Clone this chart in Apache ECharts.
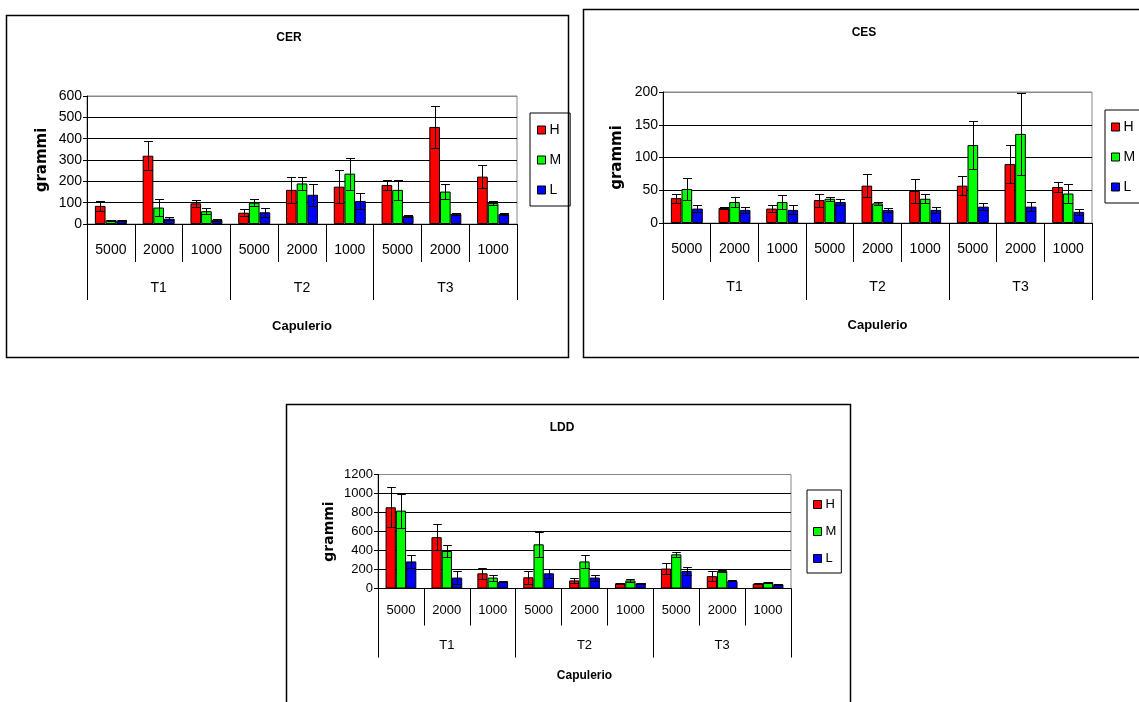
<!DOCTYPE html>
<html><head><meta charset="utf-8">
<script src="https://cdn.jsdelivr.net/npm/echarts@6/dist/echarts.min.js"></script>
<style>html,body{margin:0;padding:0;background:#fff;overflow:hidden}#c{width:1139px;height:702px}</style>
</head><body><div id="c"></div>
<script>
const subCats = ['5000','2000','1000','5000','2000','1000','5000','2000','1000'];
const groups = ['T1','T2','T3'];
const seriesNames = ['H','M','L'];
const colors = ['#FF0000','#00FF00','#0000FF'];

const cerH = [85,320,97,53,160,175,183,455,222];
const cerM = [18,77,60,100,190,236,160,152,98];
const cerL = [17,25,20,55,137,108,38,48,47];
const cerHErr = [22,68,15,16,60,77,23,100,53];
const cerMErr = [3,38,15,16,30,75,47,37,8];
const cerLErr = [3,6,4,22,52,37,3,5,5];

const cesH = [38,23,22,35,57,49,57,90,55];
const cesM = [52,32,32,37,30,37,119,136,45];
const cesL = [22,20,20,32,20,20,25,25,17];
const cesHErr = [7,2,5,10,18,18,15,29,7];
const cesMErr = [17,8,10,3,2,7,37,62,15];
const cesLErr = [5,5,7,5,3,5,5,7,5];

const lddH = [855,540,160,118,85,55,210,130,50];
const lddM = [820,395,115,465,285,85,360,185,65];
const lddL = [285,115,70,160,115,55,185,80,45];
const lddHErr = [210,135,59,66,28,8,60,55,5];
const lddMErr = [180,63,31,130,70,15,28,15,5];
const lddLErr = [65,65,5,45,31,5,39,5,5];

const yTicksCER = {min:0, max:600, interval:100};
const yTicksCES = {min:0, max:200, interval:50};
const yTicksLDD = {min:0, max:1200, interval:200};

const FONT = 'Liberation Sans, Arial, sans-serif';

const charts = [
  {title:'CER', vals:[cerH,cerM,cerL], errs:[cerHErr,cerMErr,cerLErr], y:yTicksCER,
   grid:{left:87, top:96, width:430, height:128}, fs:14, nameFs:15,
   box:{x:6,y:15,w:562,h:342}, titleXY:[289,38],
   subTick:38, grpTick:76, subMargin:19, grpMargin:57, capGap:96, yNameGap:37,
   legend:{left:530, top:113, pad:[10,9,9,7], gap:16, fs:14}},
  {title:'CES', vals:[cesH,cesM,cesL], errs:[cesHErr,cesMErr,cesLErr], y:yTicksCES,
   grid:{left:663, top:92, width:429, height:131}, fs:14, nameFs:15,
   box:{x:583,y:9,w:620,h:348}, titleXY:[864,33],
   subTick:39, grpTick:77, subMargin:19, grpMargin:57, capGap:96, yNameGap:38,
   legend:{left:1105, top:110, pad:[10,20,9,6], gap:16, fs:14}},
  {title:'LDD', vals:[lddH,lddM,lddL], errs:[lddHErr,lddMErr,lddLErr], y:yTicksLDD,
   grid:{left:378, top:474.5, width:413, height:114}, fs:13, nameFs:14,
   box:{x:286,y:404,w:564,h:310}, titleXY:[562,428],
   subTick:37, grpTick:69, subMargin:15, grpMargin:50, capGap:81, yNameGap:42,
   legend:{left:807, top:490, pad:[8,5,8,6], gap:14, fs:13}}
];

function errRender(params, api) {
  const ci = api.value(0), v = api.value(1), e = api.value(2), si = api.value(3);
  const band = api.size([1, 0])[0];
  const bw = band * 0.67 / 3;
  const c = api.coord([ci, v]);
  const x = Math.round(c[0] + (si - 1) * bw) + 0.5;
  const top = Math.round(api.coord([ci, v + e])[1]) + 0.5;
  const bot = Math.round(api.coord([ci, Math.max(0, v - e)])[1]) + 0.5;
  const cap = bw * 0.42;
  const st = {stroke:'#000', lineWidth:1};
  return {type:'group', children:[
    {type:'line', shape:{x1:x, y1:top, x2:x, y2:bot}, style:st},
    {type:'line', shape:{x1:x-cap, y1:top, x2:x+cap, y2:top}, style:st},
    {type:'line', shape:{x1:x-cap, y1:bot, x2:x+cap, y2:bot}, style:st}
  ]};
}

const option = {backgroundColor:'#fff', animation:false, grid:[], xAxis:[], yAxis:[], series:[], legend:[], graphic:[]};

charts.forEach((ch, i) => {
  option.grid.push(Object.assign({show:true, borderColor:'#888', borderWidth:1, backgroundColor:'transparent', containLabel:false}, ch.grid));
  option.xAxis.push({
    type:'category', gridIndex:i, data:subCats, position:'bottom',
    axisLine:{show:true, lineStyle:{color:'#000', width:1}},
    axisTick:{show:true, interval:0, length:ch.subTick, alignWithLabel:false, lineStyle:{color:'#000'}},
    axisLabel:{interval:0, margin:ch.subMargin, color:'#000', fontSize:ch.fs, fontFamily:FONT},
    splitLine:{show:false}
  });
  option.xAxis.push({
    type:'category', gridIndex:i, data:groups, position:'bottom',
    axisLine:{show:false},
    axisTick:{show:true, interval:0, length:ch.grpTick, alignWithLabel:false, lineStyle:{color:'#000'}},
    axisLabel:{interval:0, margin:ch.grpMargin, color:'#000', fontSize:ch.fs, fontFamily:FONT},
    name:'Capulerio', nameLocation:'middle', nameGap:ch.capGap,
    nameTextStyle:{color:'#000', fontWeight:'bold', fontSize:ch.fs-1, fontFamily:FONT},
    splitLine:{show:false}
  });
  const nLines = Math.round((ch.y.max - ch.y.min) / ch.y.interval) + 1;
  const splitColors = [];
  for (let k = 0; k < nLines; k++) splitColors.push(k === nLines - 1 ? '#888' : '#000');
  option.yAxis.push({
    type:'value', gridIndex:i, min:ch.y.min, max:ch.y.max, interval:ch.y.interval,
    axisLine:{show:true, lineStyle:{color:'#000', width:1}},
    axisTick:{show:true, length:4, lineStyle:{color:'#000'}},
    axisLabel:{color:'#000', fontSize:ch.fs, fontFamily:FONT, margin:5, formatter:(v) => String(v)},
    splitLine:{show:true, lineStyle:{color:splitColors, width:1}},
    name:'grammi', nameLocation:'middle', nameGap:ch.yNameGap,
    nameTextStyle:{color:'#000', fontWeight:'bold', fontSize:ch.nameFs, fontFamily:'DejaVu Sans, sans-serif'}
  });
  seriesNames.forEach((nm, s) => {
    option.series.push({
      type:'bar', name:nm, xAxisIndex:2*i, yAxisIndex:i, data:ch.vals[s],
      barGap:'0%', barCategoryGap:'33%',
      itemStyle:{color:colors[s], borderColor:'#000', borderWidth:1}
    });
  });
  const errData = [];
  for (let s = 0; s < 3; s++) for (let k = 0; k < subCats.length; k++) errData.push([k, ch.vals[s][k], ch.errs[s][k], s]);
  option.series.push({
    type:'custom', name:'err'+ch.title, xAxisIndex:2*i, yAxisIndex:i, renderItem:errRender,
    data:errData, encode:{x:0, y:1}, z:10, silent:true
  });
  option.legend.push({
    data:seriesNames, orient:'vertical', left:ch.legend.left, top:ch.legend.top,
    padding:ch.legend.pad, itemGap:ch.legend.gap, itemWidth:8, itemHeight:8, icon:'rect',
    borderColor:'#000', borderWidth:1, selectedMode:false,
    itemStyle:{borderColor:'#000', borderWidth:1},
    textStyle:{color:'#000', fontSize:ch.legend.fs, fontFamily:FONT, padding:[0,0,0,-1]}
  });
  option.graphic.push({type:'rect', shape:{x:ch.box.x+0.5, y:ch.box.y+0.5, width:ch.box.w, height:ch.box.h},
    style:{fill:'none', stroke:'#000', lineWidth:1.5}, z:-10, silent:true});
  option.graphic.push({type:'text', x:ch.titleXY[0], y:ch.titleXY[1],
    style:{text:ch.title, textAlign:'center', textVerticalAlign:'middle', fill:'#000',
      font:'bold 12px ' + FONT}, silent:true});
});

const chart = echarts.init(document.getElementById('c'), null, {renderer:'canvas'});
chart.setOption(option);
</script>
</body></html>
